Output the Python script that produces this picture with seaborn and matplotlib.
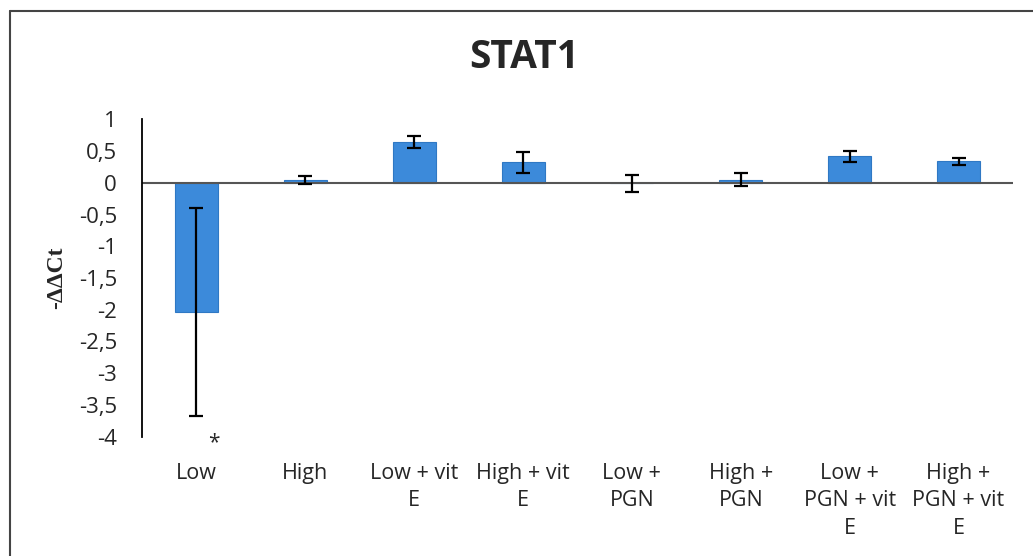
import matplotlib
matplotlib.use("Agg")
import matplotlib.pyplot as plt
from matplotlib.lines import Line2D
import numpy as np
import pandas as pd
import seaborn as sns

# datos
grupos = ['Low', 'High', 'Low + vit\nE', 'High + vit\nE', 'Low +\nPGN',
          'High +\nPGN', 'Low +\nPGN + vit\nE', 'High +\nPGN + vit\nE']
ddct = [-2.03, 0.04, 0.64, 0.32, -0.01, 0.05, 0.42, 0.34]
error = [1.64, 0.06, 0.09, 0.16, 0.14, 0.105, 0.085, 0.055]
yticks = [1, 0.5, 0, -0.5, -1, -1.5, -2, -2.5, -3, -3.5, -4]
ytick_txt = ['1', '0,5', '0', '-0,5', '-1', '-1,5', '-2', '-2,5', '-3', '-3,5', '-4']

df = pd.DataFrame({'grupo': grupos, 'ddct': ddct, 'err': error})

sns.set_style("white")
plt.rcParams['font.family'] = ['Open Sans', 'DejaVu Sans']

fig = plt.figure(figsize=(10.33, 5.56), dpi=100)
ax = fig.add_axes([142/1033, 1-436.7/556, 871/1033, 317.4/556])

sns.barplot(data=df, x='grupo', y='ddct', color='#3C8ADA', width=0.395,
            errorbar=None, saturation=1, edgecolor='#2F78C4', linewidth=0.8, ax=ax)
ax.errorbar(np.arange(len(grupos)), df['ddct'], yerr=df['err'], fmt='none',
            ecolor='black', elinewidth=1.6, capsize=5, capthick=1.6)

ax.axhline(0, color='#555555', lw=1.5, zorder=1)
ax.set_ylim(-4, 1)
ax.set_xlim(-0.5, len(grupos) - 0.5)
ax.set_yticks(yticks)
ax.set_yticklabels(ytick_txt)
ax.tick_params(axis='y', length=0, pad=18, labelsize=16)
ax.tick_params(axis='x', length=0, pad=19, labelsize=15.5)
for t in ax.get_xticklabels():
    t.set_linespacing(1.4)
    t.set_va('top')

ax.spines['top'].set_visible(False)
ax.spines['right'].set_visible(False)
ax.spines['bottom'].set_visible(False)
ax.spines['left'].set_color('black')
ax.spines['left'].set_linewidth(1.3)

ax.set_xlabel('')
ax.set_ylabel('-ΔΔCt', family=['Liberation Serif', 'DejaVu Serif'],
              fontweight='bold', fontsize=17)
ax.yaxis.set_label_coords(-75/871, 0.5)

# asterisco de significancia
ax.text(0.16, -4.1, '*', ha='center', va='center', fontsize=15)

fig.text(524/1033, 1-57/556, 'STAT1', ha='center', va='center',
         fontsize=28, fontweight='bold')

# marco del grafico
fig.add_artist(Line2D([10/1033, 10/1033], [0, 1-11/556], color='#444444', lw=1.5))
fig.add_artist(Line2D([10/1033, 1], [1-11/556, 1-11/556], color='#444444', lw=1.5))

fig.savefig('out.png', dpi=100)
